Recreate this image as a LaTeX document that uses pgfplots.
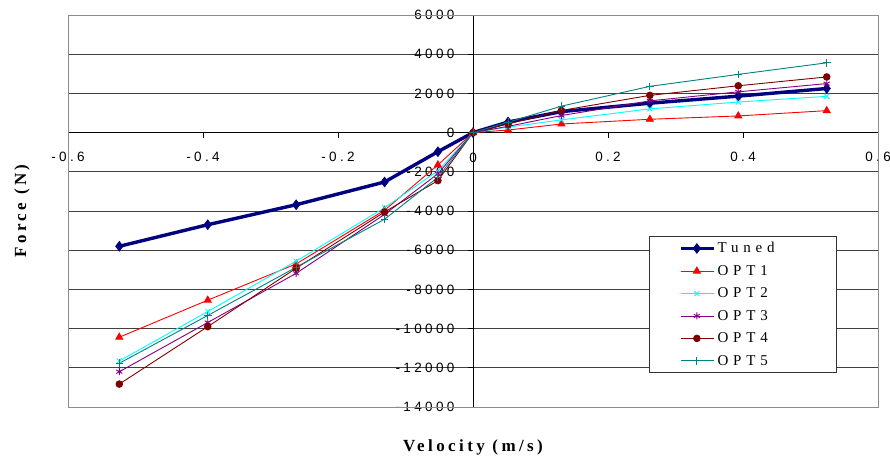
\documentclass[border=0pt]{standalone}
\usepackage{pgfplots}
\pgfplotsset{compat=1.18}
\usepackage{fontspec}
\setmainfont{Liberation Serif}
\newfontfamily\ticksf[LetterSpace=25]{Liberation Sans}
\newfontfamily\legsf[LetterSpace=32]{Liberation Serif}
\newfontfamily\labsf[LetterSpace=20]{Liberation Serif}
\definecolor{ctuned}{RGB}{0,0,128}
\definecolor{copt1}{RGB}{255,0,0}
\definecolor{copt2}{RGB}{0,255,255}
\definecolor{copt3}{RGB}{128,0,128}
\definecolor{copt4}{RGB}{128,0,0}
\definecolor{copt5}{RGB}{0,128,128}
\begin{document}
\begin{tikzpicture}
\useasboundingbox (-68pt,-51pt) rectangle (822pt,407pt);
\begin{axis}[
  name=ax, at={(0,0)}, anchor=south west,
  scale only axis, width=810pt, height=392pt,
  xmin=-0.6, xmax=0.6, ymin=-14000, ymax=6000,
  axis lines=middle, axis line style={-, black, line width=0.8pt},
  hide obscured x ticks=false, hide obscured y ticks=false,
  scaled y ticks=false, scaled x ticks=false,
  xtick={-0.6,-0.4,-0.2,0,0.2,0.4,0.6},
  xticklabels={-0.6,-0.4,-0.2,,0.2,0.4,0.6},
  ytick={-14000,-12000,-10000,-8000,-6000,-4000,-2000,0,2000,4000,6000},
  yticklabels={-14000,-12000,-10000,-8000,-6000,-4000,-2000,0,2000,4000,6000},
  tick align=outside, major tick length=5pt,
  tick style={black, line width=0.8pt},
  ticklabel style={font=\ticksf\fontsize{13.5}{16}\selectfont},
  xticklabel style={anchor=north, yshift=-11pt},
  yticklabel style={anchor=east, xshift=-10pt},
  ymajorgrids, major grid style={black!75, line width=0.8pt},
  legend style={at={(rel axis cs:0.717,0.436)}, anchor=north west,
    draw=black!80, line width=0.8pt, fill=white,
    font=\legsf\fontsize{15}{17}\selectfont,
    row sep=7pt, inner xsep=30pt, inner ysep=4pt},
  legend cell align=left,
  legend image code/.code={%
    \draw[mark repeat=2,mark phase=2] plot coordinates {(0pt,0pt) (16pt,0pt) (33pt,0pt)};},
  clip=false,
]
\draw[black!45, line width=0.9pt] (rel axis cs:0,0) rectangle (rel axis cs:1,1);
\addplot[ctuned, line width=3.4pt, mark=diamond*, mark size=5pt, mark options={solid, line width=0.5pt, fill=ctuned}]
 coordinates {(-0.524,-5800) (-0.393,-4700) (-0.262,-3680) (-0.131,-2520) (-0.052,-975) (0,0) (0.052,540) (0.131,1070) (0.262,1500) (0.393,1860) (0.524,2250)};
\addlegendentry{Tuned\hspace*{30pt}}
\addplot[copt1, line width=0.9pt, mark=triangle*, mark size=4pt, mark options={solid, fill=copt1}]
 coordinates {(-0.524,-10440) (-0.393,-8550) (-0.262,-6700) (-0.131,-3960) (-0.052,-1650) (0,0) (0.052,130) (0.131,440) (0.262,680) (0.393,850) (0.524,1120)};
\addlegendentry{OPT1}
\addplot[copt2, line width=0.9pt, mark=x, mark size=3.5pt, mark options={solid}]
 coordinates {(-0.524,-11650) (-0.393,-9130) (-0.262,-6560) (-0.131,-3830) (-0.052,-1950) (0,0) (0.052,280) (0.131,650) (0.262,1210) (0.393,1560) (0.524,1850)};
\addlegendentry{OPT2}
\addplot[copt3, line width=0.9pt, mark=asterisk, mark size=3.5pt, mark options={solid}]
 coordinates {(-0.524,-12200) (-0.393,-9690) (-0.262,-7180) (-0.131,-4170) (-0.052,-2100) (0,0) (0.052,320) (0.131,870) (0.262,1620) (0.393,2080) (0.524,2500)};
\addlegendentry{OPT3}
\addplot[copt4, line width=0.9pt, mark=*, mark size=3.3pt, mark options={solid, fill=copt4}]
 coordinates {(-0.524,-12830) (-0.393,-9900) (-0.262,-6920) (-0.131,-4050) (-0.052,-2450) (0,0) (0.052,440) (0.131,1130) (0.262,1900) (0.393,2390) (0.524,2840)};
\addlegendentry{OPT4}
\addplot[copt5, line width=0.9pt, mark=+, mark size=3.8pt, mark options={solid}]
 coordinates {(-0.524,-11770) (-0.393,-9330) (-0.262,-6870) (-0.131,-4420) (-0.052,-2280) (0,0) (0.052,530) (0.131,1350) (0.262,2360) (0.393,2970) (0.524,3560)};
\addlegendentry{OPT5}
\node[font=\ticksf\fontsize{13.5}{16}\selectfont, anchor=center, fill=none] at ([yshift=-25pt]axis cs:0,0) {0};
\end{axis}
\node[font=\labsf\bfseries\fontsize{17}{20}\selectfont] at ([yshift=-40pt]ax.south) {Velocity (m/s)};
\node[rotate=90, font=\labsf\bfseries\fontsize{17}{20}\selectfont] at ([xshift=-46pt]ax.west) {Force (N)};
\end{tikzpicture}
\end{document}
